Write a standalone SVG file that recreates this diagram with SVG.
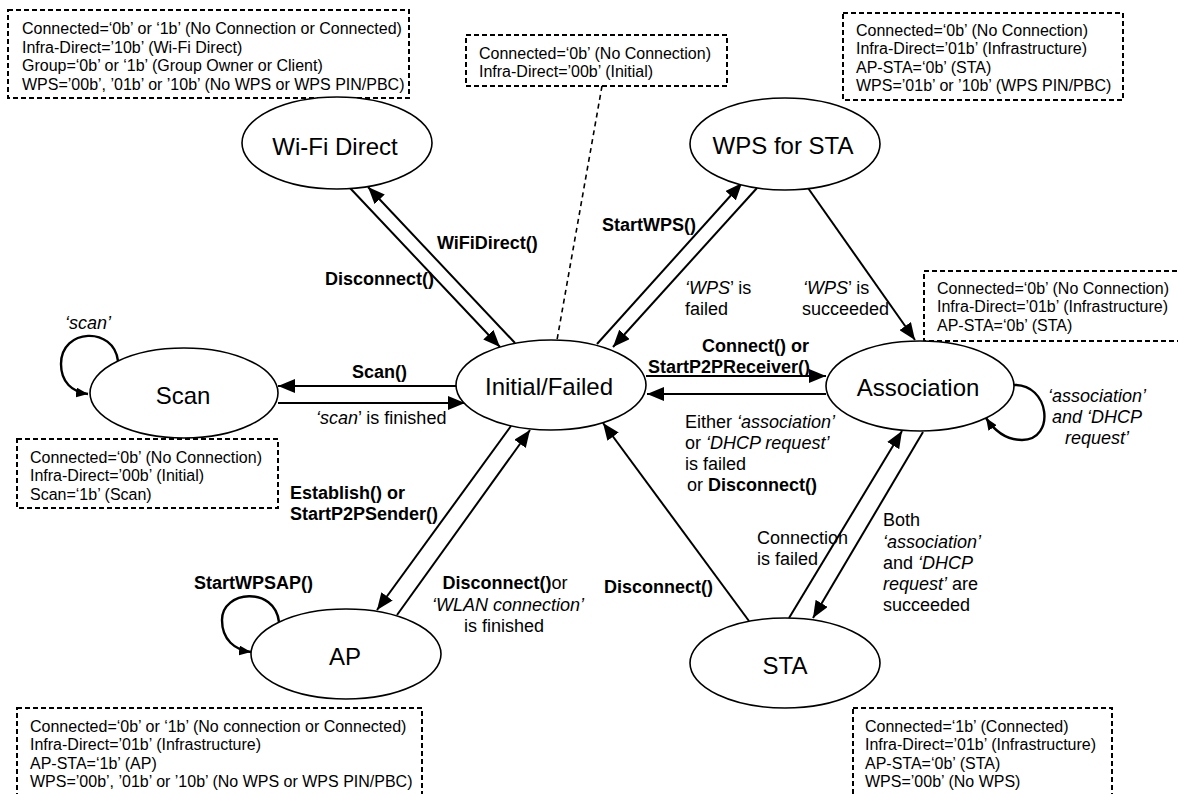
<svg xmlns="http://www.w3.org/2000/svg" width="1178" height="794" viewBox="0 0 1178 794">
  <style>
    text { font-family: "Liberation Sans", Arial, sans-serif; fill: #000; }
    .st { fill: #fff; stroke: #000; stroke-width: 1.6; }
    .nt { font-size: 24px; text-anchor: middle; }
    .box { fill: #fff; stroke: #000; stroke-width: 2; stroke-dasharray: 5 3; }
    .bt { font-size: 16px; }
    .ct { font-size: 18px; }
    .mid { text-anchor: middle; }
    .b { font-weight: bold; }
    .i { font-style: italic; }
    .edge { fill: none; stroke: #000; stroke-width: 2; }
    .loop { fill: none; stroke: #000; stroke-width: 2.4; }
    .note { fill: none; stroke: #000; stroke-width: 1.6; stroke-dasharray: 5 4; }
  </style>
  <defs>
    <marker id="ah" markerWidth="17" markerHeight="14" refX="17" refY="7" orient="auto" markerUnits="userSpaceOnUse">
      <path d="M0,0 L17,7 L0,14 Z" fill="#000"/>
    </marker>
    <marker id="ahs" markerWidth="12" markerHeight="10" refX="12" refY="5" orient="auto" markerUnits="userSpaceOnUse">
      <path d="M0,0 L12,5 L0,10 Z" fill="#000"/>
    </marker>
  </defs>

  <!-- state attribute boxes -->
  <g id="box-wifidirect">
    <rect class="box" x="8" y="10" width="401" height="88"/>
    <text class="bt" x="22" y="34">Connected=‘0b’ or ‘1b’ (No Connection or Connected)</text>
    <text class="bt" x="22" y="52.5">Infra-Direct=’10b’ (Wi-Fi Direct)</text>
    <text class="bt" x="22" y="71">Group=‘0b’ or ‘1b’ (Group Owner or Client)</text>
    <text class="bt" x="22" y="89.5">WPS=’00b’, ’01b’ or ’10b’ (No WPS or WPS PIN/PBC)</text>
  </g>
  <g id="box-initial">
    <rect class="box" x="466" y="35" width="261" height="51"/>
    <text class="bt" x="479" y="58.5">Connected=‘0b’ (No Connection)</text>
    <text class="bt" x="479" y="77">Infra-Direct=’00b’ (Initial)</text>
  </g>
  <g id="box-wps">
    <rect class="box" x="843" y="13" width="280" height="87"/>
    <text class="bt" x="856" y="35.5">Connected=‘0b’ (No Connection)</text>
    <text class="bt" x="856" y="54">Infra-Direct=’01b’ (Infrastructure)</text>
    <text class="bt" x="856" y="72.5">AP-STA=‘0b’ (STA)</text>
    <text class="bt" x="856" y="91">WPS=’01b’ or ’10b’ (WPS PIN/PBC)</text>
  </g>
  <g id="box-association">
    <rect class="box" x="924" y="271" width="270" height="70"/>
    <text class="bt" x="937" y="293.5">Connected=‘0b’ (No Connection)</text>
    <text class="bt" x="937" y="312">Infra-Direct=’01b’ (Infrastructure)</text>
    <text class="bt" x="937" y="330.5">AP-STA=‘0b’ (STA)</text>
  </g>
  <g id="box-scan">
    <rect class="box" x="17" y="439" width="261" height="69"/>
    <text class="bt" x="30" y="462.5">Connected=‘0b’ (No Connection)</text>
    <text class="bt" x="30" y="481">Infra-Direct=’00b’ (Initial)</text>
    <text class="bt" x="30" y="499.5">Scan=‘1b’ (Scan)</text>
  </g>
  <g id="box-ap">
    <rect class="box" x="17" y="708" width="405" height="100"/>
    <text class="bt" x="30" y="731.5">Connected=‘0b’ or ‘1b’ (No connection or Connected)</text>
    <text class="bt" x="30" y="750">Infra-Direct=’01b’ (Infrastructure)</text>
    <text class="bt" x="30" y="768.5">AP-STA=‘1b’ (AP)</text>
    <text class="bt" x="30" y="787">WPS=’00b’, ’01b’ or ’10b’ (No WPS or WPS PIN/PBC)</text>
  </g>
  <g id="box-sta">
    <rect class="box" x="853" y="708" width="259" height="100"/>
    <text class="bt" x="865" y="731.5">Connected=‘1b’ (Connected)</text>
    <text class="bt" x="865" y="750">Infra-Direct=’01b’ (Infrastructure)</text>
    <text class="bt" x="865" y="768.5">AP-STA=‘0b’ (STA)</text>
    <text class="bt" x="865" y="787">WPS=’00b’ (No WPS)</text>
  </g>

  <!-- transitions -->
  <g id="connectors">
    <line class="note" x1="602" y1="86" x2="557" y2="340"/>

    <!-- Initial <-> Wi-Fi Direct -->
    <line class="edge" x1="350" y1="188" x2="500" y2="347" marker-end="url(#ah)"/>
    <line class="edge" x1="515" y1="343" x2="368" y2="187" marker-end="url(#ah)"/>
    <!-- Initial <-> WPS for STA -->
    <line class="edge" x1="597" y1="344" x2="742" y2="183" marker-end="url(#ah)"/>
    <line class="edge" x1="757" y1="188" x2="613" y2="347" marker-end="url(#ah)"/>
    <!-- WPS for STA -> Association -->
    <line class="edge" x1="808" y1="188" x2="915" y2="340" marker-end="url(#ah)"/>
    <!-- Initial <-> Scan -->
    <line class="edge" x1="457" y1="386" x2="278" y2="386" marker-end="url(#ah)"/>
    <line class="edge" x1="278" y1="403" x2="465" y2="403" marker-end="url(#ah)"/>
    <!-- Initial <-> Association -->
    <line class="edge" x1="646" y1="376" x2="826" y2="376" marker-end="url(#ah)"/>
    <line class="edge" x1="826" y1="394" x2="647" y2="394" marker-end="url(#ah)"/>
    <!-- Initial <-> AP -->
    <line class="edge" x1="511" y1="426" x2="377" y2="610" marker-end="url(#ah)"/>
    <line class="edge" x1="397" y1="615" x2="530" y2="430" marker-end="url(#ah)"/>
    <!-- STA -> Initial -->
    <line class="edge" x1="749" y1="621" x2="603" y2="423" marker-end="url(#ah)"/>
    <!-- STA <-> Association -->
    <line class="edge" x1="789" y1="618" x2="902" y2="431" marker-end="url(#ah)"/>
    <line class="edge" x1="923" y1="432" x2="813" y2="618" marker-end="url(#ah)"/>

    <!-- self loops -->
    <path class="loop" d="M118,361 C114,326 61,328 61,364 C61,382 72,392 88,394" marker-end="url(#ahs)"/>
    <path class="loop" d="M279,622 C275,586 222,590 222,620 C222,640 235,650 251,652" marker-end="url(#ahs)"/>
    <path class="loop" d="M1013,385 C1050,383 1056,440 1022,440 C1006,440 994,430 986,418" marker-end="url(#ahs)"/>

    <!-- transition labels -->
    <text class="ct b" x="437" y="249">WiFiDirect()</text>
    <text class="ct b" x="325" y="285">Disconnect()</text>
    <text class="ct b" x="602" y="231">StartWPS()</text>
    <text class="ct" x="685" y="294"><tspan class="i">‘WPS</tspan>’ is</text>
    <text class="ct" x="685" y="315">failed</text>
    <text class="ct" x="803" y="294"><tspan class="i">‘WPS</tspan>’ is</text>
    <text class="ct" x="802" y="315">succeeded</text>
    <text class="ct i" x="65" y="329">‘scan’</text>
    <text class="ct b" x="352" y="378">Scan()</text>
    <text class="ct" x="316" y="424"><tspan class="i">‘scan</tspan>’ is finished</text>
    <text class="ct b" x="702" y="352">Connect() or</text>
    <text class="ct b" x="648" y="373">StartP2PReceiver()</text>
    <text class="ct" x="685" y="428">Either <tspan class="i">‘association’</tspan></text>
    <text class="ct" x="685" y="449">or <tspan class="i">‘DHCP request’</tspan></text>
    <text class="ct" x="685" y="470">is failed</text>
    <text class="ct" x="687" y="491">or <tspan class="b">Disconnect()</tspan></text>
    <text class="ct i mid" x="1097" y="402">‘association’</text>
    <text class="ct i mid" x="1097" y="423">and ‘DHCP</text>
    <text class="ct i mid" x="1097" y="444">request’</text>
    <text class="ct b" x="290" y="499">Establish() or</text>
    <text class="ct b" x="290" y="520">StartP2PSender()</text>
    <text class="ct b" x="194" y="589">StartWPSAP()</text>
    <text class="ct mid" x="505" y="589"><tspan class="b">Disconnect()</tspan>or</text>
    <text class="ct mid" x="508" y="611"><tspan class="i">‘WLAN connection’</tspan></text>
    <text class="ct mid" x="504" y="632">is finished</text>
    <text class="ct b" x="604" y="593">Disconnect()</text>
    <text class="ct" x="757" y="544">Connection</text>
    <text class="ct" x="757" y="565">is failed</text>
    <text class="ct" x="883" y="526">Both</text>
    <text class="ct i" x="883" y="548">‘association’</text>
    <text class="ct" x="883" y="569">and <tspan class="i">‘DHCP</tspan></text>
    <text class="ct" x="883" y="590"><tspan class="i">request’</tspan> are</text>
    <text class="ct" x="883" y="611">succeeded</text>
  </g>

  <!-- states -->
  <g id="state-wifidirect">
    <ellipse class="st" cx="337" cy="143" rx="95" ry="46"/>
    <text class="nt" x="335" y="155">Wi-Fi Direct</text>
  </g>
  <g id="state-wps">
    <ellipse class="st" cx="785" cy="144" rx="95" ry="46"/>
    <text class="nt" x="783" y="154">WPS for STA</text>
  </g>
  <g id="state-scan">
    <ellipse class="st" cx="184" cy="393" rx="94" ry="45"/>
    <text class="nt" x="183" y="404">Scan</text>
  </g>
  <g id="state-initial">
    <ellipse class="st" cx="551" cy="385" rx="95" ry="45"/>
    <text class="nt" x="549" y="395">Initial/Failed</text>
  </g>
  <g id="state-association">
    <ellipse class="st" cx="920" cy="386" rx="94" ry="45"/>
    <text class="nt" x="918" y="396">Association</text>
  </g>
  <g id="state-ap">
    <ellipse class="st" cx="346" cy="654" rx="95" ry="45"/>
    <text class="nt" x="345" y="665">AP</text>
  </g>
  <g id="state-sta">
    <ellipse class="st" cx="785" cy="663" rx="95" ry="45"/>
    <text class="nt" x="785" y="674">STA</text>
  </g>
</svg>
